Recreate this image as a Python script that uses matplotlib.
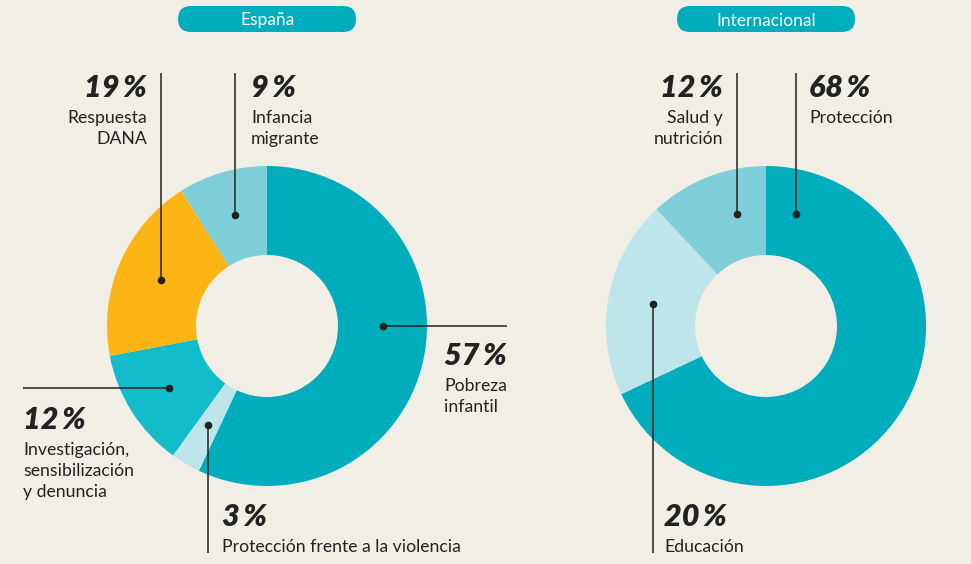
import matplotlib.pyplot as plt
from matplotlib.patches import FancyBboxPatch
import numpy as np

# datos
esp_labels = ["Pobreza\ninfantil", "Protección frente a la violencia",
              "Investigación,\nsensibilización\ny denuncia", "Respuesta\nDANA",
              "Infancia\nmigrante"]
esp_values = [57, 3, 12, 19, 9]
int_labels = ["Protección", "Educación", "Salud y\nnutrición"]
int_values = [68, 20, 12]

bg = "#f1eee6"
esp_colors = ["#00adbd", "#bee5ea", "#13bccb", "#fdb515", "#7fcfdb"]
int_colors = ["#00adbd", "#bee5ea", "#7fcfdb"]
teal = "#00adbd"
ink = "#222222"

W, H = 971, 564
fig = plt.figure(figsize=(W / 100, H / 100), dpi=100, facecolor=bg)
ax = fig.add_axes([0, 0, 1, 1])
ax.set_facecolor(bg)

def Y(y):
    # coordenadas en pixeles desde arriba
    return H - y

R, WIDTH = 160, 89
RMID = R - WIDTH / 2

def donut(cx, cy, values, colors):
    ax.pie(values, colors=colors, center=(cx, Y(cy)), radius=R, startangle=90,
           counterclock=False, wedgeprops=dict(width=WIDTH, linewidth=0))
    cum = np.cumsum([0] + values[:-1]) / 100
    mids = 90 - (cum + np.array(values) / 200) * 360
    return mids

def leader(cx, cy, ang, direction, end):
    a = np.deg2rad(ang)
    dx = cx + RMID * np.cos(a)
    dy = Y(cy) + RMID * np.sin(a)
    if direction == "v":
        ax.plot([dx, dx], [dy, Y(end)], color=ink, lw=1.1, solid_capstyle="butt")
    else:
        ax.plot([dx, end], [dy, dy], color=ink, lw=1.1, solid_capstyle="butt")
    ax.plot(dx, dy, "o", color=ink, ms=4.5)

def label(x, y, pct, text, ha="left"):
    ax.text(x, Y(y), f"{pct}\u2009%", ha=ha, va="center", fontsize=22,
            family=["Lato", "DejaVu Sans"], weight="heavy", style="italic", color=ink)
    ax.text(x, Y(y + 22), text, ha=ha, va="top", fontsize=12.7,
            family=["Lato", "DejaVu Sans"], color=ink, linespacing=1.4)

# España
cx1, cy1 = 267, 326
m1 = donut(cx1, cy1, esp_values, esp_colors)
leader(cx1, cy1, 0, "h", 507)
leader(cx1, cy1, m1[1], "v", 553)
leader(cx1, cy1, m1[2], "h", 23)
leader(cx1, cy1, m1[3], "v", 73)
leader(cx1, cy1, m1[4], "v", 73)
label(444, 356, esp_values[0], esp_labels[0])
label(222, 517, esp_values[1], esp_labels[1])
label(23, 420, esp_values[2], esp_labels[2])
label(147, 88, esp_values[3], esp_labels[3], ha="right")
label(251, 88, esp_values[4], esp_labels[4])

# Internacional
cx2, cy2 = 766, 326
m2 = donut(cx2, cy2, int_values, int_colors)
leader(cx2, cy2, 75, "v", 73)
leader(cx2, cy2, m2[1], "v", 553)
leader(cx2, cy2, 104.5, "v", 73)
label(809, 88, int_values[0], int_labels[0])
label(664, 517, int_values[1], int_labels[1])
label(723, 88, int_values[2], int_labels[2], ha="right")

# titulos
for x0, x1, t in [(178, 356, "España"), (677, 855, "Internacional")]:
    ax.add_patch(FancyBboxPatch((x0, Y(32)), x1 - x0, 26,
                                boxstyle="round,pad=0,rounding_size=13",
                                fc=teal, ec="none"))
    ax.text((x0 + x1) / 2, Y(20.5), t, ha="center", va="center", fontsize=12.5,
            family=["Lato", "DejaVu Sans"], color="white")

ax.set_xlim(0, W)
ax.set_ylim(0, H)
ax.set_aspect("equal")
ax.axis("off")

fig.savefig("out.png", dpi=100, facecolor=bg)
